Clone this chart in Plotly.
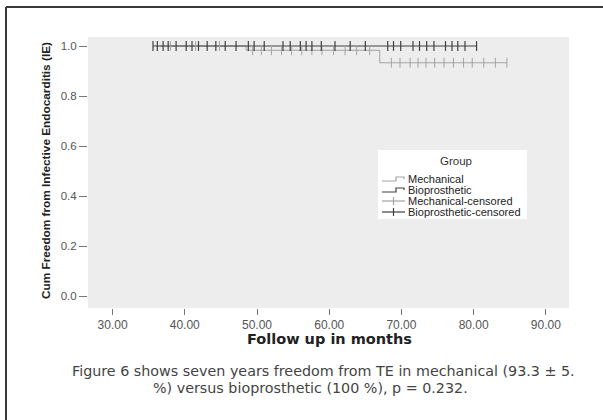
import plotly.graph_objects as go

# ---------------- data ----------------
bio_time = [35.6, 80.4]
bio_surv = [1.0, 1.0]
bio_censor = [35.6, 36.2, 37.0, 37.7, 38.8, 40.2, 41.0, 41.9, 43.1, 44.3, 45.6, 47.1,
              48.8, 49.6, 51.0, 53.6, 54.6, 56.0, 56.8, 57.6, 58.9, 60.8, 62.9, 65.0,
              68.1, 68.9, 69.9, 71.6, 72.5, 73.5, 74.5, 76.1, 77.0, 77.8, 78.8, 80.4]

mech_time = [36.5, 48.5, 67.0, 84.6]
mech_surv = [1.0, 0.983, 0.933, 0.933]
mech_censor_t = [38.0, 41.5, 44.8, 49.4, 50.6, 52.0, 53.4, 54.8, 56.2, 57.6, 59.0, 60.6,
                 62.2, 63.8, 65.6, 68.6, 69.8, 71.2, 72.3, 73.4, 74.6, 75.9, 77.2,
                 78.6, 79.8, 81.4, 83.0, 84.6]
mech_censor_s = [1.0, 1.0, 1.0] + [0.983] * 12 + [0.933] * 13

x_ticks = [30, 40, 50, 60, 70, 80, 90]
x_tick_labels = ["30.00", "40.00", "50.00", "60.00", "70.00", "80.00", "90.00"]
y_ticks = [0.0, 0.2, 0.4, 0.6, 0.8, 1.0]
y_tick_labels = ["0.0", "0.2", "0.4", "0.6", "0.8", "1.0"]

legend_names = ["Mechanical", "Bioprosthetic", "Mechanical-censored", "Bioprosthetic-censored"]

MECH_C = "#a3a3a3"
BIO_C = "#404040"

# ---------------- layout geometry ----------------
W, H = 603, 420
L, R, T, B = 88, 569, 37, 308


def px2x(px):
    return (px - L) / (R - L)


def px2y(py):
    return (B - py) / (B - T)


fig = go.Figure()

fig.add_trace(go.Scatter(x=mech_time, y=mech_surv, mode="lines", line_shape="hv",
                         line=dict(color=MECH_C, width=1), showlegend=False, hoverinfo="skip"))
fig.add_trace(go.Scatter(x=bio_time, y=bio_surv, mode="lines", line_shape="hv",
                         line=dict(color=BIO_C, width=1.2), showlegend=False, hoverinfo="skip"))
fig.add_trace(go.Scatter(x=mech_censor_t, y=mech_censor_s, mode="markers",
                         marker=dict(symbol="line-ns", size=7, line=dict(color=MECH_C, width=1)),
                         showlegend=False, hoverinfo="skip"))
fig.add_trace(go.Scatter(x=bio_censor, y=[1.0] * len(bio_censor), mode="markers",
                         marker=dict(symbol="line-ns", size=7, line=dict(color=BIO_C, width=1.2)),
                         showlegend=False, hoverinfo="skip"))

shapes = []
# outer frame lines
shapes.append(dict(type="line", xref="paper", yref="paper", x0=px2x(6), x1=px2x(603),
                   y0=px2y(7), y1=px2y(7), line=dict(color="#3a3a3a", width=2)))
shapes.append(dict(type="line", xref="paper", yref="paper", x0=px2x(6), x1=px2x(6),
                   y0=px2y(7), y1=px2y(420), line=dict(color="#3a3a3a", width=2)))

# legend box
shapes.append(dict(type="rect", xref="paper", yref="paper", x0=px2x(378), x1=px2x(527),
                   y0=px2y(219), y1=px2y(150), fillcolor="white", line=dict(width=0)))

annotations = []
annotations.append(dict(text="Group", xref="paper", yref="paper", x=px2x(456), y=px2y(161),
                        showarrow=False, xanchor="center", yanchor="middle",
                        font=dict(family="Arial, Liberation Sans", size=11.5, color="#333")))
entry_y = [179, 190, 201, 212]
entry_col = [MECH_C, BIO_C, MECH_C, BIO_C]
for i, (name, yy, col) in enumerate(zip(legend_names, entry_y, entry_col)):
    if i < 2:
        path = (f"M {px2x(382)},{px2y(yy + 2)} L {px2x(396)},{px2y(yy + 2)} "
                f"L {px2x(396)},{px2y(yy - 2)} L {px2x(404)},{px2y(yy - 2)} "
                f"L {px2x(404)},{px2y(yy)}")
        shapes.append(dict(type="path", xref="paper", yref="paper", path=path,
                           line=dict(color=col, width=1.2)))
    else:
        shapes.append(dict(type="line", xref="paper", yref="paper", x0=px2x(382), x1=px2x(405),
                           y0=px2y(yy), y1=px2y(yy), line=dict(color=col, width=1.2)))
        shapes.append(dict(type="line", xref="paper", yref="paper", x0=px2x(393.5), x1=px2x(393.5),
                           y0=px2y(yy - 4), y1=px2y(yy + 4), line=dict(color=col, width=1.2)))
    annotations.append(dict(text=name, xref="paper", yref="paper", x=px2x(407), y=px2y(yy),
                            showarrow=False, xanchor="left", yanchor="middle", borderpad=0,
                            font=dict(family="Arial, Liberation Sans", size=11, color="#222")))

# axis titles
annotations.append(dict(text="<b>Follow up in months</b>", xref="paper", yref="paper",
                        x=px2x(329), y=px2y(339), showarrow=False, xanchor="center", yanchor="middle",
                        font=dict(family="DejaVu Sans", size=14.5, color="#222")))
annotations.append(dict(text="<b>Cum Freedom from Infective Endocarditis (IE)</b>", xref="paper",
                        yref="paper", x=px2x(46), y=px2y(171), showarrow=False, textangle=-90,
                        xanchor="center", yanchor="middle",
                        font=dict(family="Arial, Liberation Sans", size=11.8, color="#222")))

# caption
annotations.append(dict(text="Figure 6 shows seven years freedom from TE in mechanical (93.3 \u00b1 5.",
                        xref="paper", yref="paper", x=px2x(323), y=px2y(371), showarrow=False,
                        xanchor="center", yanchor="middle", borderpad=0,
                        font=dict(family="DejaVu Sans", size=14.3, color="#444")))
annotations.append(dict(text="%) versus bioprosthetic (100 %), p = 0.232.",
                        xref="paper", yref="paper", x=px2x(310), y=px2y(388.5), showarrow=False,
                        xanchor="center", yanchor="middle", borderpad=0,
                        font=dict(family="DejaVu Sans", size=14.3, color="#444")))

fig.update_layout(
    width=W, height=H,
    margin=dict(l=L, r=W - R, t=T, b=H - B, pad=0),
    paper_bgcolor="white", plot_bgcolor="#ededed",
    showlegend=False,
    shapes=shapes, annotations=annotations,
    xaxis=dict(range=[26.6, 93.2], tickvals=x_ticks, ticktext=x_tick_labels,
               ticks="outside", ticklen=6, tickcolor="#777", tickwidth=1,
               showgrid=False, zeroline=False, showline=False,
               tickfont=dict(family="Arial, Liberation Sans", size=12, color="#555")),
    yaxis=dict(range=[-0.048, 1.036], tickvals=y_ticks, ticktext=y_tick_labels,
               ticks="outside", ticklen=8, tickcolor="#777", tickwidth=1,
               showgrid=False, zeroline=False, showline=False,
               tickfont=dict(family="Arial, Liberation Sans", size=11.5, color="#555")),
)

fig.write_html("out.html", config={"displayModeBar": False},
               post_script="document.body.style.margin='0';document.body.style.overflow='hidden';")
